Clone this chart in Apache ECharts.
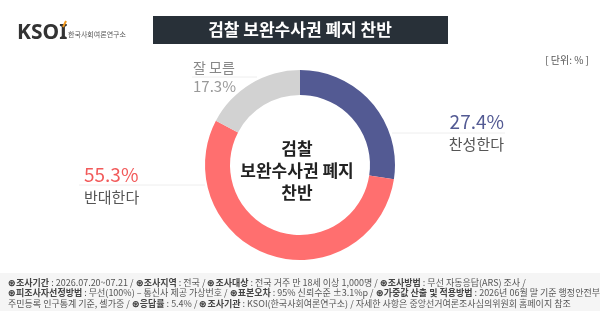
<!DOCTYPE html>
<html>
<head>
<meta charset="utf-8">
<script src="https://cdn.jsdelivr.net/npm/echarts@6/dist/echarts.min.js"></script>
<style>
  html, body { margin: 0; padding: 0; background: #fff; }
  #chart { width: 600px; height: 317px; }
</style>
</head>
<body>
<div id="chart"></div>
<script>
// 데이터
var categories = ['찬성한다', '반대한다', '잘 모름'];
var values = [27.4, 55.3, 17.3];
var colors = ['#535a93', '#ff6f6f', '#d2d2d2'];

var titleText = '검찰 보완수사권 폐지 찬반';
var centerText = '검찰\n보완수사권 폐지\n찬반';
var footerLines = [
  '{b|⊛조사기간} : 2026.07.20~07.21 / {b|⊛조사지역} : 전국 / {b|⊛조사대상} : 전국 거주 만 18세 이상 1,000명 / {b|⊛조사방법} : 무선 자동응답(ARS) 조사 /',
  '{b|⊛피조사자선정방법} : 무선(100%) – 통신사 제공 가상번호 / {b|⊛표본오차} : 95% 신뢰수준 ±3.1%p / {b|⊛가중값 산출 및 적용방법} : 2026년 06월 말 기준 행정안전부',
  '주민등록 인구통계 기준, 셀가중 / {b|⊛응답률} : 5.4% / {b|⊛조사기관} : KSOI(한국사회여론연구소) / 자세한 사항은 중앙선거여론조사심의위원회 홈페이지 참조'
];

var FONT = '"Noto Sans CJK KR", "Noto Sans", sans-serif';

// 라벨 위치 (원본 배치)
var labelPos = [
  { x: 504, y: 133, align: 'right', line: [[392, 133], [398, 133], [505, 133]] },
  { x: 84, y: 186, align: 'left', line: [[205, 185], [195, 185], [79, 185]] },
  { x: 193, y: 77, align: 'left', line: [[257, 77], [250, 77], [192, 77]] }
];

var chart = echarts.init(document.getElementById('chart'));

var data = categories.map(function (c, i) {
  return { name: c, value: values[i], itemStyle: { color: colors[i] } };
});

chart.setOption({
  animation: false,
  series: [{
    type: 'pie',
    center: [300, 165],
    radius: [70, 95],
    startAngle: 90,
    clockwise: true,
    data: data,
    label: {
      show: true,
      position: 'outside',
      fontFamily: FONT,
      formatter: function (p) {
        if (p.dataIndex === 2) return '{n2|' + p.name + '}\n{v2|' + p.value.toFixed(1) + '%}';
        return '{v' + p.dataIndex + '|' + p.value.toFixed(1) + '%}\n{n|' + p.name + '}';
      },
      rich: {
        v0: { fontSize: 19, color: '#535a93', lineHeight: 23, fontFamily: FONT },
        v1: { fontSize: 19, color: '#f25a5a', lineHeight: 23, fontFamily: FONT },
        n: { fontSize: 15, color: '#555', lineHeight: 23, fontFamily: FONT },
        n2: { fontSize: 14, color: '#888', lineHeight: 19, fontFamily: FONT },
        v2: { fontSize: 15, color: '#999', lineHeight: 19, fontFamily: FONT }
      }
    },
    labelLine: { show: true, lineStyle: { color: '#eeeeee', width: 1 } },
    labelLayout: function (params) {
      var p = labelPos[params.dataIndex];
      return {
        x: p.x,
        y: p.y,
        align: p.align,
        verticalAlign: 'middle',
        labelLinePoints: p.line
      };
    }
  }],
  graphic: [
    // 로고
    {
      type: 'text', left: 17, top: 23,
      style: { text: 'KSOI', font: 'bold 21px "Noto Sans", sans-serif', fill: '#333' }
    },
    {
      type: 'line', shape: { x1: 63, y1: 27, x2: 66, y2: 21 },
      style: { stroke: '#f39a1e', lineWidth: 2 }
    },
    {
      type: 'text', left: 68, top: 31,
      style: { text: '한국사회여론연구소', font: '7px ' + FONT, fill: '#555' }
    },
    // 제목 바
    {
      type: 'rect', shape: { x: 153, y: 16, width: 295, height: 28 },
      style: { fill: '#283038' }
    },
    {
      type: 'text', x: 300, y: 30,
      style: {
        text: titleText, font: 'bold 17px ' + FONT, fill: '#fff',
        textAlign: 'center', textVerticalAlign: 'middle'
      }
    },
    {
      type: 'text', x: 589, y: 60,
      style: {
        text: '[ 단위: % ]', font: '10px ' + FONT, fill: '#555',
        textAlign: 'right', textVerticalAlign: 'middle'
      }
    },
    // 가운데 텍스트
    {
      type: 'text', x: 297, y: 171,
      style: {
        text: centerText, font: 'bold 17px ' + FONT, fill: '#222',
        textAlign: 'center', textVerticalAlign: 'middle', lineHeight: 22
      }
    },
    // 하단 조사 개요
    {
      type: 'rect', shape: { x: 0, y: 273, width: 600, height: 38 },
      style: { fill: '#f5f5f5' }
    },
    {
      type: 'text', x: 8, y: 277,
      style: {
        text: footerLines.join('\n'),
        font: '9px ' + FONT, fill: '#555', lineHeight: 10.5,
        rich: {
          b: { fontWeight: 'bold', fontSize: 9, fill: '#444', lineHeight: 10.5, fontFamily: FONT }
        }
      }
    }
  ]
});
</script>
</body>
</html>
